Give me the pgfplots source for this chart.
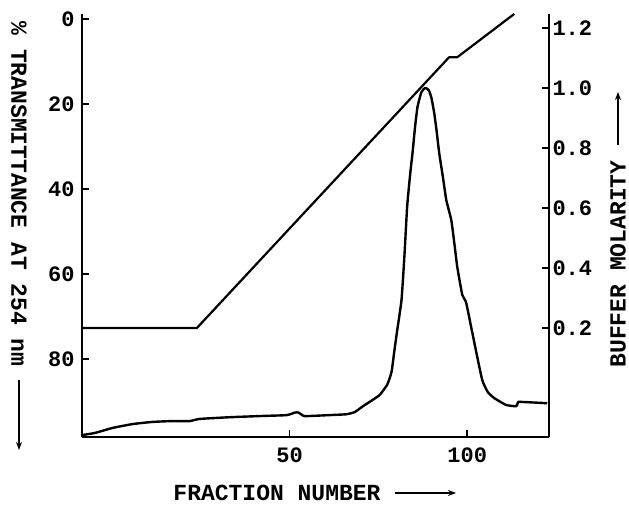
\documentclass[border=0pt]{standalone}
\usepackage{fontspec}
\setmainfont{Liberation Mono}
\usepackage{pgfplots}
\usepackage{pgfplotstable}
\pgfplotsset{compat=1.18}
\usetikzlibrary{arrows.meta}

\pgfplotstableread{
X T
-8.4 97.9
-4.8 97.4
0.3 96.2
5.9 95.3
11.5 94.8
17.1 94.6
21.9 94.6
24.7 94.1
33.1 93.7
42.4 93.4
49.2 93.2
51.5 92.6
52.5 92.6
54.0 93.4
56.0 93.4
61.2 93.2
66.0 93.0
68.3 92.5
70.5 91.2
72.5 90.1
75.3 88.5
77.5 86.0
78.7 83.0
79.5 78.0
80.3 73.2
81.5 66.1
82.3 56.0
83.1 44.0
84.0 36.0
84.6 31.5
85.3 25.5
86.0 20.7
87.1 17.2
88.2 16.2
89.2 16.8
89.9 18.5
90.7 22.1
91.4 26.5
92.1 31.5
93.2 37.5
94.1 42.6
95.5 47.3
96.4 53.0
97.2 58.4
98.6 64.9
99.7 66.8
102.0 76.2
104.2 84.9
105.8 87.8
107.6 89.2
110.9 90.8
113.8 91.1
114.3 90.1
115.4 90.1
122.5 90.4
}\transdata

\pgfplotstableread{
X M
-8.4 0.2
23.9 0.2
94.9 1.103
97.2 1.103
113.2 1.247
}\graddata

\pgfplotsset{
  common/.style={
    scale only axis, width=467pt, height=423pt,
    at={(82pt,71pt)}, anchor=south west,
    xmin=-8.4, xmax=123,
    axis line style={line width=1.8pt, -},
    tick style={line width=1.6pt, black},
    tick align=inside, major tick length=7pt,
    tick label style={font=\fontsize{22}{22}\selectfont\bfseries},
    /pgf/number format/assume math mode=true,
  }
}

\begin{document}
\begin{tikzpicture}[x=1pt,y=1pt]
\begin{axis}[common,
  ymin=-98.35, ymax=1.18,
  axis x line*=bottom, axis y line*=left,
  xtick={50,100},
  ytick={0,-20,-40,-60,-80},
  yticklabels={0,20,40,60,80},
  yticklabel style={xshift=-4pt},
  xticklabel style={yshift=-7pt},
]
\addplot[black, line width=2.4pt, line join=round, smooth, tension=0.3]
  table[x=X, y expr=-\thisrow{T}] {\transdata};
\end{axis}
\begin{axis}[common,
  ymin=-0.163, ymax=1.247,
  axis y line*=right, axis x line=none,
  ytick={0.2,0.4,0.6,0.8,1.0,1.2},
  yticklabel style={/pgf/number format/.cd, fixed, fixed zerofill, precision=1},
  clip=false,
]
\addplot[black, line width=2.2pt, line join=round] table[x=X, y=M] {\graddata};
\end{axis}
\node[rotate=-90, font=\fontsize{23}{23}\selectfont\bfseries] at (19,314) {\% TRANSMITTANCE AT 254 nm};
\draw[line width=1.4pt, -{Stealth[length=8pt,width=6pt]}] (19,128) -- (19,58);
\node[rotate=90, font=\fontsize{23}{23}\selectfont\bfseries] at (618,244) {BUFFER MOLARITY};
\draw[line width=1.4pt, -{Stealth[length=8pt,width=6pt]}] (618,363) -- (618,416);
\node[font=\fontsize{23}{23}\selectfont\bfseries] at (277,15) {FRACTION NUMBER};
\draw[line width=1.4pt, -{Stealth[length=8pt,width=6pt]}] (395,15) -- (456,15);
\pgfresetboundingbox
\path (0,0) rectangle (629,508);
\end{tikzpicture}
\end{document}
